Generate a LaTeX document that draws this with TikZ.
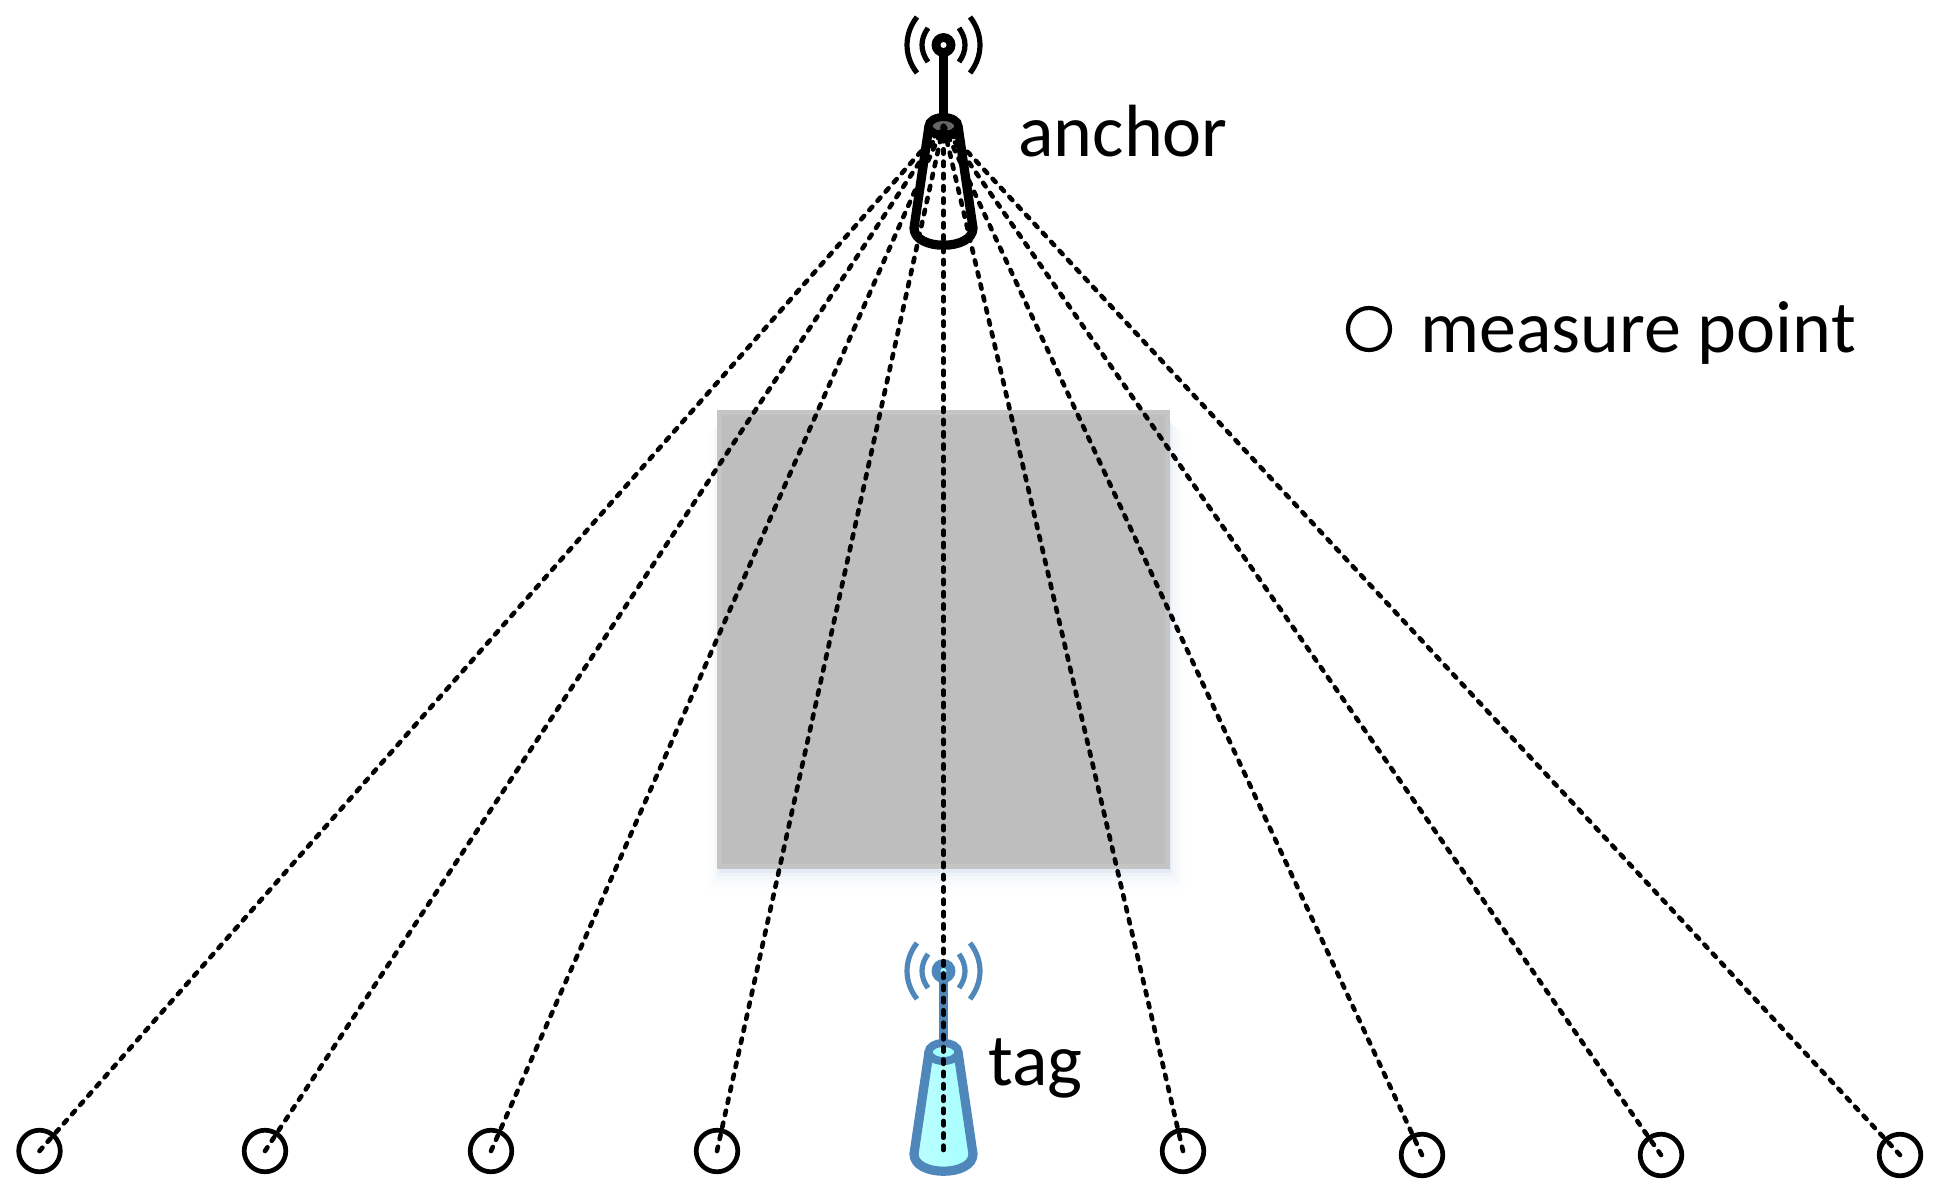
\documentclass[tikz,border=0pt]{standalone}
\usepackage{fontspec}
\setmainfont{Carlito}
\definecolor{tagblue}{HTML}{4F87BA}
\definecolor{tagcyan}{HTML}{A6FFFF}
\definecolor{boxgrey}{HTML}{BEBEBE}
\definecolor{boxedge}{HTML}{C5C5C5}
\tikzset{
  mpoint/.style={circle,draw=black,line width=2.35pt,minimum size=20.8pt,inner sep=0pt},
  legendpoint/.style={circle,draw=black,line width=2.1pt,minimum size=21pt,inner sep=0pt},
  sightline/.style={black,line width=2.3pt,line cap=round,dash pattern=on 2.2pt off 3.95pt},
  label/.style={inner sep=0pt,anchor=base west,font=\fontsize{37}{42}\selectfont},
  haze/.style={fill=tagblue!#1!white},
}
% #1 vertical offset, #2 line colour, #3 body fill options, #4 hole colour, #5 dot colour
\newcommand{\antennaicon}[5]{%
  \begin{scope}[shift={(0,#1)}]
    \draw[#2,line width=4.4pt] (943.5,45) -- (943.5,118);
    \path[#3] (929,126) -- (914,228) .. controls (914,251) and (973,251) .. (973,228) -- (958,126) -- cycle;
    \draw[#2,line width=4.6pt,line join=round] (929,126) -- (914,228) .. controls (914,251) and (973,251) .. (973,228) -- (958,126);
    \draw[#2,line width=4pt,fill=#4] (943.5,126) ellipse [x radius=15, y radius=9];
    \fill[#2] (943.5,45) circle [radius=12];
    \fill[#5] (943.5,45) circle [radius=3];
    \draw[#2,line width=2.6pt] (917,17) .. controls (903.7,34) and (903.7,56) .. (917,73);
    \draw[#2,line width=2.6pt] (928,28) .. controls (920,39) and (920,51) .. (928,62);
    \draw[#2,line width=2.6pt] (970,17) .. controls (983.3,34) and (983.3,56) .. (970,73);
    \draw[#2,line width=2.6pt] (959,28) .. controls (967,39) and (967,51) .. (959,62);
  \end{scope}%
}
\begin{document}
\begin{tikzpicture}[x=0.5pt,y=-0.5pt]
  \useasboundingbox (0,0) rectangle (1939,1199);
  \fill[white] (0,0) rectangle (1939,1199);
  % box with soft shadow
  \path[haze=1] (709,432) rectangle (1186,892);
  \path[haze=2] (711,430) rectangle (1183,888);
  \path[haze=4] (713,428) rectangle (1180,884);
  \path[haze=6] (715,426) rectangle (1176,880);
  \path[haze=10] (717,424) rectangle (1173,876);
  \path[haze=16] (719,422) rectangle (1171,873);
  \node[fill=boxedge,inner sep=0pt,minimum width=226.5pt,minimum height=229.5pt,anchor=north west] (wall) at (717,410) {};
  \fill[boxgrey] (722,415) rectangle (1165,864);
  % icons
  \antennaicon{0}{black}{fill=white}{black!60}{white}
  \antennaicon{926}{tagblue}{left color=tagcyan!75!white,right color=tagcyan}{tagcyan}{tagcyan}
  % reference points
  \coordinate (hub) at (943.5,126);
  \coordinate (tagbase) at (943.5,1150);
  \node[mpoint] (m1) at (39.5,1151) {};
  \node[mpoint] (m2) at (265,1151) {};
  \node[mpoint] (m3) at (491,1151) {};
  \node[mpoint] (m4) at (717,1151) {};
  \node[mpoint] (m6) at (1183,1151) {};
  \node[mpoint] (m7) at (1422,1155) {};
  \node[mpoint] (m8) at (1661,1155) {};
  \node[mpoint] (m9) at (1900,1155) {};
  \foreach \n in {m1,m2,m3,m4,m6,m7,m8,m9}{
    \draw[sightline] (\n.center) -- (hub);
  }
  \draw[sightline] (tagbase) -- (hub);
  % labels
  \node[label] (anchorlabel) at (1018,156) {anchor};
  \node[label] (taglabel) at (988,1085) {tag};
  \node[legendpoint] (legend) at (1369,329) {};
  \node[label] (legendlabel) at (1420,352) {measure point};
\end{tikzpicture}
\end{document}
